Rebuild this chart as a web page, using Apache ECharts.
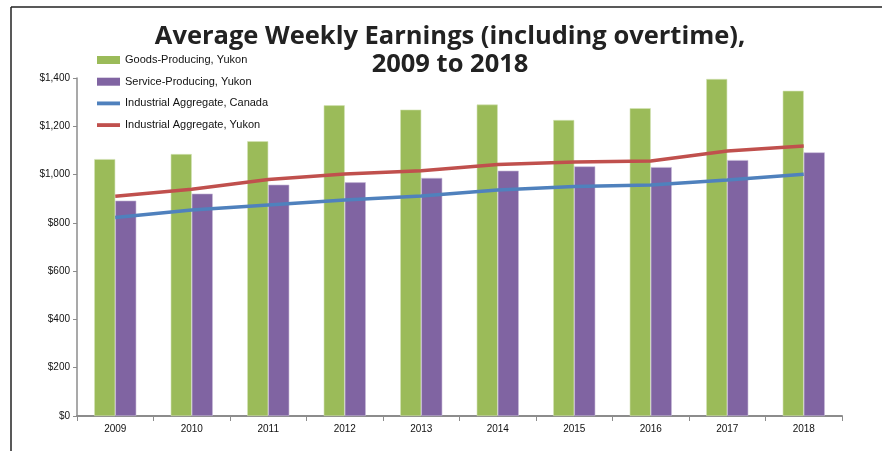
<!DOCTYPE html>
<html>
<head>
<meta charset="utf-8">
<script src="https://cdn.jsdelivr.net/npm/echarts@6/dist/echarts.min.js"></script>
<style>
  html, body { margin: 0; padding: 0; background: #fff; }
  #chart { width: 883px; height: 451px; }
</style>
</head>
<body>
<div id="chart"></div>
<script>
const years = ['2009','2010','2011','2012','2013','2014','2015','2016','2017','2018'];
const goodsYukon = [1064, 1085, 1138, 1287, 1269, 1290, 1226, 1275, 1396, 1347];
const serviceYukon = [892, 921, 958, 968, 986, 1016, 1034, 1031, 1060, 1092];
const industrialCanada = [822, 853, 874, 895, 911, 936, 951, 957, 978, 1001];
const industrialYukon = [910, 939, 980, 1002, 1016, 1042, 1052, 1056, 1098, 1118];
const yTicks = [0, 200, 400, 600, 800, 1000, 1200, 1400];

const chart = echarts.init(document.getElementById('chart'));
const axisGray = '#8c8c8c';
const lineIcon = 'path://M0,0L24,0L24,4L0,4Z';
chart.setOption({
  animation: false,
  backgroundColor: '#fff',
  graphic: [
    { type: 'line', shape: { x1: 11, y1: 7, x2: 882, y2: 7 }, style: { stroke: '#222', lineWidth: 1.5 } },
    { type: 'line', shape: { x1: 11, y1: 7, x2: 11, y2: 451 }, style: { stroke: '#222', lineWidth: 1.5 } }
  ],
  title: {
    text: 'Average Weekly Earnings (including overtime),\n2009 to 2018',
    left: 445, top: 18, textAlign: 'center',
    textStyle: { fontFamily: 'Open Sans', fontWeight: 'bold', fontSize: 25.5, color: '#222', lineHeight: 28 }
  },
  legend: {
    orient: 'vertical', left: 97, top: 54.5, padding: 0, itemWidth: 23, itemHeight: 8, itemGap: 10.7,
    itemStyle: { borderWidth: 0 },
    textStyle: { fontFamily: 'Liberation Sans', fontSize: 11, color: '#111' },
    data: [
      { name: 'Goods-Producing, Yukon', icon: 'rect' },
      { name: 'Service-Producing, Yukon', icon: 'rect' },
      { name: 'Industrial Aggregate, Canada', icon: lineIcon },
      { name: 'Industrial Aggregate, Yukon', icon: lineIcon }
    ]
  },
  grid: { left: 77, right: 41, top: 78, bottom: 35, containLabel: false },
  xAxis: {
    type: 'category', data: years, boundaryGap: true,
    axisLine: { lineStyle: { color: axisGray, width: 2 } },
    axisTick: { show: true, length: 5, alignWithLabel: false, lineStyle: { color: axisGray } },
    axisLabel: { fontFamily: 'Liberation Sans', fontSize: 10, color: '#111', margin: 8 }
  },
  yAxis: {
    type: 'value', min: 0, max: 1400, interval: 200,
    axisLine: { show: true, lineStyle: { color: axisGray, width: 1.5 } },
    axisTick: { show: true, length: 4, lineStyle: { color: axisGray } },
    splitLine: { show: false },
    axisLabel: {
      fontFamily: 'Liberation Sans', fontSize: 10, color: '#111', margin: 7,
      formatter: v => '$' + v.toLocaleString('en-US')
    }
  },
  series: [
    { name: 'Goods-Producing, Yukon', type: 'bar', data: goodsYukon, barGap: '0%', barCategoryGap: '45%',
      itemStyle: { color: '#9BBB59', borderColor: '#d4e3b5', borderWidth: 0.6 }, z: 2 },
    { name: 'Service-Producing, Yukon', type: 'bar', data: serviceYukon, barGap: '0%', barCategoryGap: '45%',
      itemStyle: { color: '#8064A2', borderColor: '#c8bad8', borderWidth: 0.6 }, z: 2 },
    { name: 'Industrial Aggregate, Canada', type: 'line', data: industrialCanada, symbol: 'none',
      lineStyle: { color: '#4F81BD', width: 3.5 }, itemStyle: { color: '#4F81BD' }, z: 5 },
    { name: 'Industrial Aggregate, Yukon', type: 'line', data: industrialYukon, symbol: 'none',
      lineStyle: { color: '#C0504D', width: 3.5 }, itemStyle: { color: '#C0504D' }, z: 5 }
  ]
});
</script>
</body>
</html>
